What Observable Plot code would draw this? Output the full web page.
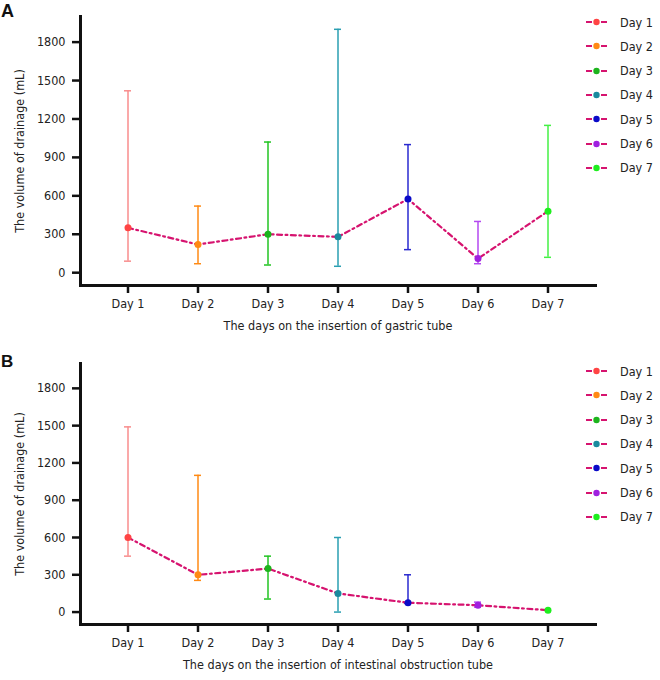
<!DOCTYPE html>
<html>
<head>
<meta charset="utf-8">
<script src="https://cdn.jsdelivr.net/npm/d3@7"></script>
<script src="https://cdn.jsdelivr.net/npm/@observablehq/plot@0.6"></script>
<style>
  html, body { margin: 0; padding: 0; background: #fff; overflow: hidden; }
  #wrap { position: relative; width: 660px; height: 680px; font-family: "DejaVu Sans Condensed", "DejaVu Sans", sans-serif; color: #222; }
  .panel { position: absolute; left: 0; width: 660px; height: 340px; }
  .plabel { position: absolute; left: 1px; font-family: "Liberation Sans", Arial, sans-serif; font-weight: bold; color: #111; line-height: 1; }
  .legend { position: absolute; left: 586px; }
  .lrow { position: absolute; left: 0; height: 20px; display: flex; align-items: center; white-space: nowrap; font-size: 12.5px; }
  .lrow svg { margin-right: 13px; }
</style>
</head>
<body>
<div id="wrap"></div>
<script>
const days = ["Day 1", "Day 2", "Day 3", "Day 4", "Day 5", "Day 6", "Day 7"];
const yTicks = [0, 300, 600, 900, 1200, 1500, 1800];

// Panel A: gastric tube
const gastricMean = [350, 220, 300, 280, 575, 110, 480];
const gastricLow  = [90, 70, 60, 50, 180, 70, 120];
const gastricHigh = [1420, 520, 1020, 1900, 1000, 400, 1150];

// Panel B: intestinal obstruction tube
const intestMean = [600, 300, 350, 150, 75, 55, 15];
const intestLow  = [450, 255, 105, 0, 70, 40, 15];
const intestHigh = [1490, 1100, 450, 600, 300, 80, 15];

const dotColors = ["#ff4444", "#ff8a14", "#1db41d", "#1a8a9e", "#0a0ac8", "#a020e0", "#1eee1e"];
const barColors = ["#f88c8c", "#ff8a14", "#22c422", "#2a9fb2", "#2a2ad0", "#b448f0", "#44f044"];
const lineColor = "#d6136f";
const font = '"DejaVu Sans Condensed", "DejaVu Sans", sans-serif';

function makePanel(mean, low, high, xLabel, marginTop, marginBottom) {
  const data = days.map((d, i) => ({day: d, mean: mean[i], low: low[i], high: high[i], dc: dotColors[i], ec: barColors[i]}));
  return Plot.plot({
    width: 660,
    height: 340,
    marginLeft: 80,
    marginRight: 65,
    marginTop,
    marginBottom,
    style: {fontFamily: font, color: "#222", background: "white"},
    x: {type: "band", domain: days, paddingInner: 0.9, paddingOuter: 0.615},
    y: {domain: [-100, 2000]},
    color: {type: "identity"},
    marks: [
      Plot.ruleX(data, {x: "day", y1: "low", y2: "high", stroke: "ec", strokeWidth: 1.5}),
      Plot.tickY(data, {x: "day", y: "low", stroke: "ec", strokeWidth: 1.5}),
      Plot.tickY(data, {x: "day", y: "high", stroke: "ec", strokeWidth: 1.5}),
      Plot.line(data, {x: "day", y: "mean", stroke: lineColor, strokeWidth: 2.2, strokeDasharray: "5,3.5,1.8,3.5"}),
      Plot.dot(data, {x: "day", y: "mean", fill: "dc", r: 3.5}),
      Plot.axisY({ticks: yTicks, tickSize: 8, tickPadding: 7, fontSize: 12.5, stroke: "#111", strokeWidth: 2.5, label: null, tickFormat: d => String(d)}),
      Plot.axisY({ticks: [], tickSize: 0, label: "The volume of drainage (mL)", labelAnchor: "center", labelOffset: 65, labelArrow: "none", fontSize: 12.5}),
      Plot.axisX({tickSize: 8, tickPadding: 6, fontSize: 12.5, stroke: "#111", strokeWidth: 2.5, label: xLabel, labelAnchor: "center", labelOffset: 44, labelArrow: "none"}),
      Plot.frame({anchor: "left", stroke: "#111", strokeWidth: 3}),
      Plot.frame({anchor: "bottom", stroke: "#111", strokeWidth: 3})
    ]
  });
}

function makeLegend(top) {
  const lg = document.createElement("div");
  lg.className = "legend";
  lg.style.top = top + "px";
  days.forEach((d, i) => {
    const row = document.createElement("div");
    row.className = "lrow";
    row.style.top = (i * 24.3) + "px";
    row.innerHTML = `<svg width="21" height="8"><line x1="0" y1="4" x2="21" y2="4" stroke="${lineColor}" stroke-width="2.2" stroke-dasharray="6,9"/><circle cx="10.5" cy="4" r="3.2" fill="${dotColors[i]}"/></svg><span>${d}</span>`;
    lg.appendChild(row);
  });
  return lg;
}

const wrap = document.getElementById("wrap");

const pA = document.createElement("div");
pA.className = "panel"; pA.style.top = "0px";
pA.appendChild(makePanel(gastricMean, gastricLow, gastricHigh, "The days on the insertion of gastric tube", 16, 55));
const la = document.createElement("div"); la.className = "plabel"; la.textContent = "A"; la.style.top = "2px"; la.style.fontSize = "18px";
pA.appendChild(la);
pA.appendChild(makeLegend(12));
wrap.appendChild(pA);

const pB = document.createElement("div");
pB.className = "panel"; pB.style.top = "340px";
pB.appendChild(makePanel(intestMean, intestLow, intestHigh, "The days on the insertion of intestinal obstruction tube", 23, 56));
const lb = document.createElement("div"); lb.className = "plabel"; lb.textContent = "B"; lb.style.top = "13px"; lb.style.fontSize = "17px";
pB.appendChild(lb);
pB.appendChild(makeLegend(21));
wrap.appendChild(pB);
</script>
</body>
</html>
